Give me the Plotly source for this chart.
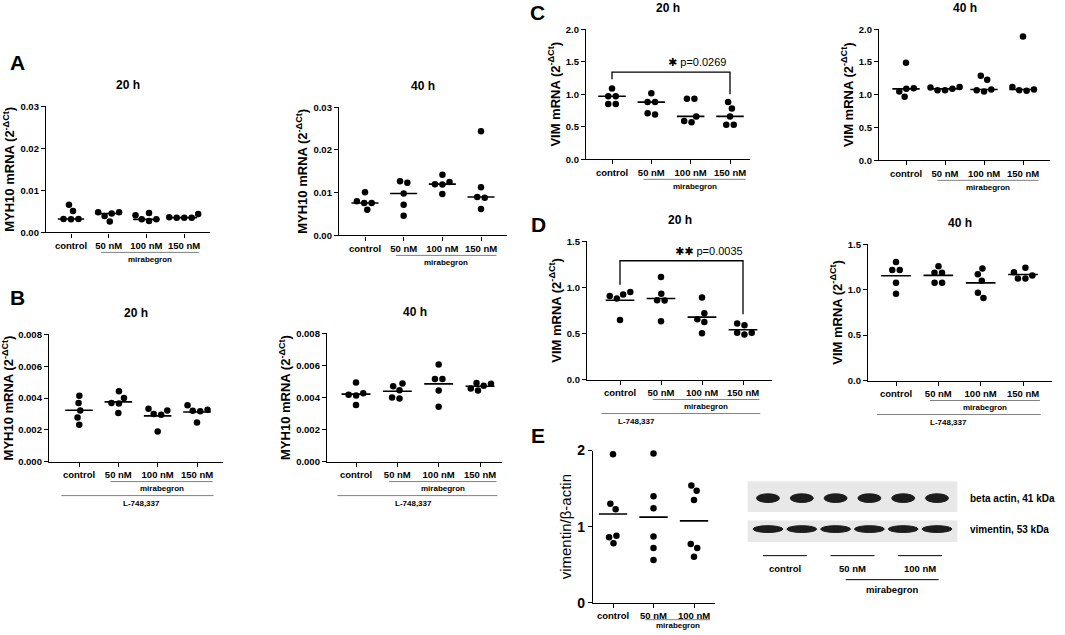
import statistics
import plotly.graph_objects as go

W, H = 1065, 635
FONT = "Liberation Sans, Arial, sans-serif"

categories = ["control", "50 nM", "100 nM", "150 nM"]
categories_e = ["control", "50 nM", "100 nM"]

# MYH10 mRNA, mirabegron alone (A)
myh10_20h = [[0.0031, 0.0066, 0.0051, 0.0032, 0.0032],
             [0.0048, 0.0045, 0.0026, 0.0048, 0.0039],
             [0.0041, 0.0027, 0.0031, 0.0046, 0.0031],
             [0.0036, 0.0044, 0.0035, 0.0035, 0.0035]]
myh10_40h = [[0.0080, 0.0101, 0.0076, 0.0060, 0.0076],
             [0.0127, 0.0123, 0.0098, 0.0072, 0.0046],
             [0.0125, 0.0142, 0.0119, 0.0120, 0.0097],
             [0.0244, 0.0113, 0.0090, 0.0088, 0.0062]]

# MYH10 mRNA with L-748,337 (B)
myh10_l_20h = [[0.00415, 0.00368, 0.00322, 0.00278, 0.00232],
               [0.00442, 0.00400, 0.00365, 0.00368, 0.00305],
               [0.00322, 0.00299, 0.00333, 0.00295, 0.00190],
               [0.00326, 0.00316, 0.00354, 0.00320, 0.00246]]
myh10_l_40h = [[0.00494, 0.00427, 0.00413, 0.00417, 0.00354],
               [0.00470, 0.00488, 0.00445, 0.00394, 0.00400],
               [0.00606, 0.00516, 0.00516, 0.00444, 0.00343],
               [0.00486, 0.00444, 0.00474, 0.00490, 0.00457]]

# VIM mRNA (C)
vim_20h = [[1.087, 0.97, 0.97, 0.85, 0.85],
           [1.015, 0.88, 0.88, 0.69, 0.71],
           [0.93, 0.93, 0.66, 0.57, 0.59],
           [0.88, 0.78, 0.66, 0.53, 0.53]]
vim_40h = [[1.10, 1.49, 1.09, 1.05, 0.97],
           [1.07, 1.12, 1.09, 1.11, 1.07],
           [1.29, 1.23, 1.05, 1.08, 1.07],
           [1.06, 1.89, 1.12, 1.07, 1.08]]

# VIM mRNA with L-748,337 (D)
vim_l_20h = [[0.924, 0.949, 0.906, 0.880, 0.645],
             [1.112, 0.932, 0.862, 0.859, 0.634],
             [0.890, 0.719, 0.654, 0.625, 0.501],
             [0.607, 0.588, 0.490, 0.509, 0.509]]
vim_l_40h = [[1.306, 1.218, 1.218, 1.078, 0.955],
             [1.260, 1.187, 1.187, 1.078, 1.078],
             [1.235, 1.170, 1.100, 0.910, 0.966],
             [1.242, 1.157, 1.194, 1.124, 1.124]]

# vimentin / beta-actin western blot (E)
vim_protein = [[1.95, 1.30, 1.23, 0.88, 0.86, 0.78],
               [1.96, 1.40, 1.24, 0.87, 0.72, 0.56],
               [1.54, 1.47, 1.35, 0.77, 0.72, 0.605]]

blot_lanes = ["control", "control", "50 nM", "50 nM", "100 nM", "100 nM"]
blot_rows = ["beta actin, 41 kDa", "vimentin, 53 kDa"]

MYH = "MYH10 mRNA (2<sup>-ΔCt</sup>)"
VIM = "VIM mRNA (2<sup>-ΔCt</sup>)"

# box = (axis left px, axis right px, first category px, last category px, top px, bottom px)
panels = [
    dict(data=myh10_20h, cats=categories, ymax=0.03, dtick=0.01, fmt=".2f", ytitle=MYH,
         stat="median", box=(46, 210, 71, 184, 107, 233), title="20 h", l748=None),
    dict(data=myh10_40h, cats=categories, ymax=0.03, dtick=0.01, fmt=".2f", ytitle=MYH,
         stat="median", box=(339, 507, 365, 481, 108, 236), title="40 h", l748=None),
    dict(data=myh10_l_20h, cats=categories, ymax=0.008, dtick=0.002, fmt=".3f", ytitle=MYH,
         stat="mean", box=(49, 223, 79, 197, 335, 462), title="20 h", l748=1.6),
    dict(data=myh10_l_40h, cats=categories, ymax=0.008, dtick=0.002, fmt=".3f", ytitle=MYH,
         stat="mean", box=(327, 502, 356, 480, 334, 462), title="40 h", l748=1.4),
    dict(data=vim_20h, cats=categories, ymax=2.0, dtick=0.5, fmt=".1f", ytitle=VIM,
         stat="median", box=(586, 750, 612, 730, 30, 160), title="20 h", l748=None,
         sig=dict(stars="✱", p="p=0.0269", top=1.34, left=1.23, right=1.0, tx=2.16, ty=1.49)),
    dict(data=vim_40h, cats=categories, ymax=2.0, dtick=0.5, fmt=".1f", ytitle=VIM,
         stat="median", box=(879, 1050, 906, 1023, 30, 161), title="40 h", l748=None),
    dict(data=vim_l_20h, cats=categories, ymax=1.5, dtick=0.5, fmt=".1f", ytitle=VIM,
         stat="mean", box=(587, 772, 620, 743, 242, 380), title="20 h", l748=0.41,
         sig=dict(stars="✱✱", p="p=0.0035", top=1.29, left=1.03, right=0.71, tx=2.17, ty=1.39)),
    dict(data=vim_l_40h, cats=categories, ymax=1.5, dtick=0.5, fmt=".1f", ytitle=VIM,
         stat="mean", box=(868, 1052, 896, 1023, 245, 381), title="40 h", l748=1.23),
    dict(data=vim_protein, cats=categories_e, ymax=2, dtick=1, fmt="d", ytitle="vimentin/β-actin",
         stat="mean", box=(593, 715, 613, 694, 451, 603), title=None, l748=None, big=True),
]

letters = [("A", 18, 63), ("B", 18, 298), ("C", 537, 13), ("D", 538, 225), ("E", 538, 436)]


def swarm(vals, px_per_unit, d=7.5):
    # simple beeswarm in pixel space, then centre each touching cluster
    order = sorted(range(len(vals)), key=lambda i: vals[i])
    ys = [v * px_per_unit for v in vals]
    xs = [0.0] * len(vals)
    placed = []
    for i in order:
        y = ys[i]
        cands = [0.0]
        for j in placed:
            dy = abs(y - ys[j])
            if dy < d:
                dx = (d * d - dy * dy) ** 0.5
                cands += [xs[j] - dx, xs[j] + dx]
        cands.sort(key=lambda c: (round(abs(c), 3), c))
        for c in cands:
            if all((c - xs[j]) ** 2 + (y - ys[j]) ** 2 >= d * d - 1e-6 for j in placed):
                xs[i] = c
                break
        placed.append(i)
    seen = set()
    for i in range(len(vals)):
        if i in seen:
            continue
        comp, stack = [], [i]
        while stack:
            k = stack.pop()
            if k in seen:
                continue
            seen.add(k)
            comp.append(k)
            stack += [j for j in range(len(vals)) if j not in seen and abs(ys[j] - ys[k]) < d]
        m = sum(xs[k] for k in comp) / len(comp)
        for k in comp:
            xs[k] -= m
    return xs


def px(x):
    return x / W


def py(y):
    # the photographed page sits ~9px lower and ~2.6% flatter than the layout, so undo that
    return 1 - ((y - 8.8) / 0.974) / H


def bold(size):
    return dict(family=FONT, size=size, color="black", weight="bold")


def note(x, y, text, font, xref="paper", yref="paper", xanchor="center"):
    return dict(x=x, y=y, xref=xref, yref=yref, text=text, font=font, showarrow=False,
                xanchor=xanchor, yanchor="middle")


fig = go.Figure()
layout = {}
annotations = []
shapes = []

for n, p in enumerate(panels, start=1):
    L, R, x0, xl, top, bot = p["box"]
    ncat = len(p["cats"])
    step = (xl - x0) / (ncat - 1)
    xa, ya = f"x{n}", f"y{n}"
    big = p.get("big", False)
    px_per_unit = (bot - top) / p["ymax"]

    xs_all, ys_all, lx, ly = [], [], [], []
    for c, vals in enumerate(p["data"]):
        offs = swarm(vals, px_per_unit)
        xs_all += [c + o / step for o in offs]
        ys_all += vals
        centre = statistics.median(vals) if p["stat"] == "median" else sum(vals) / len(vals)
        lx += [c - 0.35, c + 0.35, None]
        ly += [centre, centre, None]

    fig.add_trace(go.Scatter(x=lx, y=ly, mode="lines", xaxis=xa, yaxis=ya,
                             line=dict(color="black", width=1.6), hoverinfo="skip"))
    fig.add_trace(go.Scatter(x=xs_all, y=ys_all, mode="markers", xaxis=xa, yaxis=ya,
                             marker=dict(color="black", size=6.5), cliponaxis=False))

    sig = p.get("sig")
    if sig:
        fig.add_trace(go.Scatter(x=[0, 0, ncat - 1, ncat - 1],
                                 y=[sig["left"], sig["top"], sig["top"], sig["right"]],
                                 mode="lines", xaxis=xa, yaxis=ya,
                                 line=dict(color="black", width=1.3), hoverinfo="skip"))
        annotations.append(note(
            sig["tx"], sig["ty"],
            f'<span style="font-family:DejaVu Sans;font-size:11px">{sig["stars"]}</span> {sig["p"]}',
            dict(family=FONT, size=11, color="black"), xref=xa, yref=ya))

    xr = [(L - x0) / step, (R - x0) / step]
    layout[f"xaxis{n}"] = dict(
        domain=[px(L), px(R)], range=xr, anchor=ya, tickmode="array",
        tickvals=list(range(ncat)), ticktext=p["cats"], showline=True, linecolor="black",
        linewidth=1.3, ticks="outside", ticklen=4, tickwidth=1.3, tickcolor="black",
        showgrid=False, zeroline=False, tickfont=bold(9.5), fixedrange=True)
    layout[f"yaxis{n}"] = dict(
        domain=[py(bot), py(top)], range=[0, p["ymax"]], anchor=xa, dtick=p["dtick"],
        tickformat=p["fmt"], showline=True, linecolor="black", linewidth=1.3,
        ticks="outside", ticklen=4, tickwidth=1.3, tickcolor="black", showgrid=False,
        zeroline=False, tickfont=bold(14 if big else 9.5), fixedrange=True,
        title=dict(text=p["ytitle"], standoff=2,
                   font=dict(family=FONT, size=15, color="black") if big else bold(13)))

    if p["title"]:
        annotations.append(note(px((L + R) / 2), py(top - 21), p["title"], bold(12)))

    # mirabegron bracket under the treated groups (E sits at the page edge, so tighter)
    m0, m1 = 0.8, ncat - 1 + 0.4
    line_off, text_off = (17, 23) if big else (20, 27)
    shapes.append(dict(type="line", xref=xa, yref="paper", x0=m0, x1=m1,
                       y0=py(bot + line_off), y1=py(bot + line_off),
                       line=dict(color="#808080", width=1)))
    annotations.append(note((m0 + m1) / 2, py(bot + text_off), "mirabegron", bold(8), xref=xa))
    if p["l748"] is not None:
        shapes.append(dict(type="line", xref=xa, yref="paper", x0=-0.45, x1=ncat - 1 + 0.42,
                           y0=py(bot + 34), y1=py(bot + 34),
                           line=dict(color="#808080", width=1)))
        annotations.append(note(p["l748"], py(bot + 42), "L-748,337", bold(8), xref=xa))

for txt, x, y in letters:
    annotations.append(note(px(x), py(y), txt, bold(21)))

# western blot drawing
nb = len(panels) + 1
bx, by = f"x{nb}", f"y{nb}"
layout[f"xaxis{nb}"] = dict(domain=[px(747), px(960)], range=[-0.62, 5.68], visible=False,
                            anchor=by, fixedrange=True)
layout[f"yaxis{nb}"] = dict(domain=[py(548), py(480)], range=[1.6, -0.6], visible=False,
                            anchor=bx, fixedrange=True)
strip_y = [(-0.55, 0.45), (0.72, 1.42)]
band_half = [(0.34, 0.14), (0.44, 0.11)]
for r, name in enumerate(blot_rows):
    shapes.append(dict(type="rect", xref=bx, yref=by, x0=-0.6, x1=5.6,
                       y0=strip_y[r][0], y1=strip_y[r][1], fillcolor="#e8e8e8",
                       line=dict(width=0), layer="below"))
    hw, hh = band_half[r]
    for lane in range(len(blot_lanes)):
        shapes.append(dict(type="circle", xref=bx, yref=by, x0=lane - hw, x1=lane + hw,
                           y0=r - hh, y1=r + hh, fillcolor="#1c1c1c",
                           line=dict(color="#1c1c1c", width=1)))
    annotations.append(note(px(968), r, name, bold(10), yref=by, xanchor="left"))

groups = []
for lane, g in enumerate(blot_lanes):
    if not groups or groups[-1][0] != g:
        groups.append([g, lane, lane])
    else:
        groups[-1][2] = lane
for g, a, b in groups:
    shapes.append(dict(type="line", xref=bx, yref="paper", x0=a - 0.15, x1=b + 0.15,
                       y0=py(556), y1=py(556), line=dict(color="black", width=1)))
    annotations.append(note((a + b) / 2, py(569), g, bold(9.5), xref=bx))
treated = [i for i, g in enumerate(blot_lanes) if g != "control"]
shapes.append(dict(type="line", xref=bx, yref="paper", x0=treated[0] + 0.3,
                   x1=treated[-1] + 0.05, y0=py(580), y1=py(580),
                   line=dict(color="black", width=1)))
annotations.append(note((treated[0] + 0.3 + treated[-1] + 0.05) / 2, py(590), "mirabegron",
                        bold(9.5), xref=bx))

fig.update_layout(
    width=W, height=H, margin=dict(l=0, r=0, t=0, b=0),
    plot_bgcolor="white", paper_bgcolor="white", showlegend=False,
    annotations=annotations, shapes=shapes, **layout)

pin = ("document.body.style.margin='0';document.body.style.overflow='hidden';"
       "var g=document.getElementsByClassName('plotly-graph-div')[0];"
       "g.style.position='fixed';g.style.top='0px';g.style.left='0px';")
fig.write_html("out.html", config={"displayModeBar": False}, post_script=pin)
